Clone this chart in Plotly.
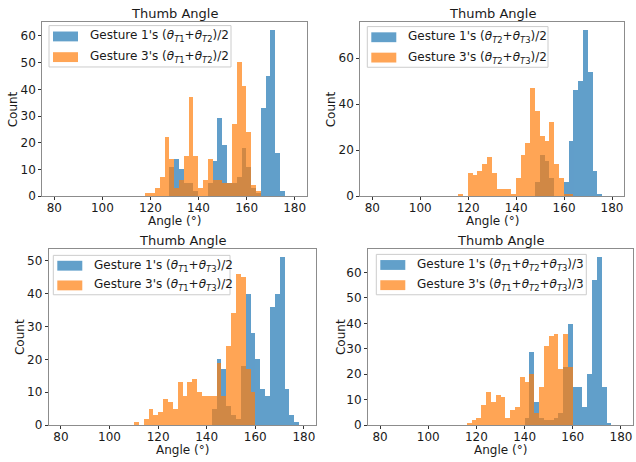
import plotly.graph_objects as go

# ---------------- data ----------------
BIN_WIDTH = 2
X_TICKS = [80, 100, 120, 140, 160, 180]
PANEL_TITLE = "Thumb Angle"
X_LABEL = "Angle (°)"
Y_LABEL = "Count"

def th(k):
    return "<i>θ</i><sub><i>T</i>%s</sub>" % k

# Panel 1: (θT1+θT2)/2
p1_label_g1 = "Gesture 1's (" + th(1) + "+" + th(2) + ")/2"
p1_label_g3 = "Gesture 3's (" + th(1) + "+" + th(2) + ")/2"
p1_g1_start = 128
p1_g1_counts = [11, 14, 10, 5, 5, 2, 0, 0, 5, 13, 29, 19, 5, 5, 7, 18, 11, 3, 1, 33, 45, 62, 16, 2]
p1_g3_start = 118
p1_g3_counts = [1, 1, 3, 7, 22, 14, 3, 6, 15, 37, 15, 3, 6, 14, 6, 6, 5, 5, 27, 50, 41, 24, 4, 2]
p1_yticks = [0, 10, 20, 30, 40, 50, 60]

# Panel 2: (θT2+θT3)/2
p2_label_g1 = "Gesture 1's (" + th(2) + "+" + th(3) + ")/2"
p2_label_g3 = "Gesture 3's (" + th(2) + "+" + th(3) + ")/2"
p2_g1_start = 148
p2_g1_counts = [6, 18, 15, 8, 0, 0, 6, 24, 46, 50, 72, 54, 11, 1]
p2_g3_start = 116
p2_g3_counts = [1, 0, 10, 9, 11, 14, 17, 10, 3, 3, 3, 1, 8, 18, 23, 47, 37, 26, 24, 32, 14, 8, 1, 1]
p2_yticks = [0, 20, 40, 60]

# Panel 3: (θT1+θT3)/2
p3_label_g1 = "Gesture 1's (" + th(1) + "+" + th(3) + ")/2"
p3_label_g3 = "Gesture 3's (" + th(1) + "+" + th(3) + ")/2"
p3_g1_start = 142
p3_g1_counts = [5, 20, 17, 6, 3, 2, 18, 40, 28, 20, 11, 9, 36, 40, 51, 11, 3, 1]
p3_g3_start = 110
p3_g3_counts = [1, 0, 2, 5, 3, 4, 8, 7, 5, 13, 9, 13, 14, 10, 9, 9, 9, 19, 9, 24, 34, 46, 45, 17, 10]
p3_yticks = [0, 10, 20, 30, 40, 50]

# Panel 4: (θT1+θT2+θT3)/3
p4_label_g1 = "Gesture 1's (" + th(1) + "+" + th(2) + "+" + th(3) + ")/3"
p4_label_g3 = "Gesture 3's (" + th(1) + "+" + th(2) + "+" + th(3) + ")/3"
p4_g1_start = 140
p4_g1_counts = [3, 29, 9, 3, 2, 2, 3, 5, 23, 40, 15, 15, 7, 20, 57, 66, 15, 1]
p4_g3_start = 116
p4_g3_counts = [1, 2, 3, 8, 13, 9, 12, 11, 3, 6, 7, 19, 17, 20, 5, 15, 31, 35, 36, 22, 36, 23]
p4_yticks = [0, 10, 20, 30, 40, 50, 60]

# ---------------- styling ----------------
BLUE = "#1f77b4"
ORANGE = "#ff7f0e"
ALPHA = 0.7
BLUE_A = "rgba(31,119,180,0.7)"
ORANGE_A = "rgba(255,127,14,0.7)"
FONT = "DejaVu Sans"
TXT = "#1a1a1a"
SPINE = "#8c8c8c"

W, H = 636, 462
# plot-area boxes in pixels: (left, right, top, bottom)
boxes = [
    (42.3, 306.7, 22.7, 199.3),
    (360.3, 624.0, 22.7, 199.3),
    (48.8, 316.0, 252.7, 431.7),
    (368.0, 633.0, 252.7, 431.7),
]
# legend boxes in pixels: (left, right, top, bottom)
legend_boxes = [
    (49.0, 231.0, 26.0, 68.0),
    (367.3, 548.0, 27.0, 68.3),
    (53.3, 230.0, 259.3, 299.3),
    (376.3, 586.3, 258.3, 299.3),
]
count_label_x = [13, 331, 20, 341]
title_y = [13.3, 13.3, 244.3, 244.3]
xlabel_y = [224.5, 224.5, 456.5, 456.5]

panels = [
    (p1_label_g1, p1_g1_start, p1_g1_counts, p1_label_g3, p1_g3_start, p1_g3_counts, p1_yticks),
    (p2_label_g1, p2_g1_start, p2_g1_counts, p2_label_g3, p2_g3_start, p2_g3_counts, p2_yticks),
    (p3_label_g1, p3_g1_start, p3_g1_counts, p3_label_g3, p3_g3_start, p3_g3_counts, p3_yticks),
    (p4_label_g1, p4_g1_start, p4_g1_counts, p4_label_g3, p4_g3_start, p4_g3_counts, p4_yticks),
]

def px(xp):
    return xp / W

def py(yp):
    return 1 - yp / H

fig = go.Figure()
layout = dict(
    width=W, height=H,
    margin=dict(l=0, r=0, t=0, b=0),
    paper_bgcolor="white", plot_bgcolor="white",
    barmode="overlay", bargap=0, showlegend=False,
    font=dict(family=FONT, size=12, color=TXT),
    annotations=[], shapes=[],
)

def centers(start, counts):
    return [start + BIN_WIDTH * (i + 0.5) for i in range(len(counts))]

for i, (l1, s1, c1, l3, s3, c3, yt) in enumerate(panels):
    n = i + 1
    xa = "x" if n == 1 else "x%d" % n
    ya = "y" if n == 1 else "y%d" % n
    fig.add_trace(go.Bar(x=centers(s1, c1), y=c1, width=BIN_WIDTH, name=l1,
                         marker=dict(color=BLUE, line=dict(width=0)), opacity=ALPHA,
                         xaxis=xa, yaxis=ya, hoverinfo="skip"))
    fig.add_trace(go.Bar(x=centers(s3, c3), y=c3, width=BIN_WIDTH, name=l3,
                         marker=dict(color=ORANGE, line=dict(width=0)), opacity=ALPHA,
                         xaxis=xa, yaxis=ya, hoverinfo="skip"))

    left, right, top, bottom = boxes[i]
    ymax = max(max(c1), max(c3)) * 1.05
    axis_common = dict(showline=True, mirror=True, linecolor=SPINE, linewidth=1,
                       ticks="outside", ticklen=3, tickcolor="#333", tickwidth=1,
                       showgrid=False, zeroline=False,
                       tickfont=dict(size=12, color=TXT, family=FONT))
    layout["xaxis" if n == 1 else "xaxis%d" % n] = dict(
        axis_common, domain=[left / W, right / W], anchor=ya,
        range=[75, 185], tickvals=X_TICKS, ticklabeloverflow="allow",
        ticklabelstandoff=-3)
    layout["yaxis" if n == 1 else "yaxis%d" % n] = dict(
        axis_common, domain=[1 - bottom / H, 1 - top / H], anchor=xa,
        range=[0, ymax], tickvals=yt)

    # panel title
    layout["annotations"].append(dict(
        text=PANEL_TITLE, xref="paper", yref="paper",
        x=px((left + right) / 2), y=py(title_y[i]), xanchor="center", yanchor="middle",
        showarrow=False, font=dict(size=13, family=FONT, color=TXT)))
    # axis labels
    layout["annotations"].append(dict(
        text=X_LABEL, xref="paper", yref="paper",
        x=px((left + right) / 2), y=py(xlabel_y[i]), xanchor="center", yanchor="middle",
        showarrow=False, font=dict(size=12, family=FONT, color=TXT)))
    layout["annotations"].append(dict(
        text=Y_LABEL, xref="paper", yref="paper", textangle=-90,
        x=px(count_label_x[i]), y=py((top + bottom) / 2), xanchor="center", yanchor="middle",
        showarrow=False, font=dict(size=12, family=FONT, color=TXT)))

    # legend (matplotlib style: framed box, wide colour patches)
    bl, br, bt, bb = legend_boxes[i]
    layout["shapes"].append(dict(
        type="rect", xref="paper", yref="paper",
        x0=px(bl), x1=px(br), y0=py(bb), y1=py(bt),
        line=dict(color="#cccccc", width=1), fillcolor="rgba(255,255,255,0.8)", layer="above"))
    row_h = (bb - bt) / 2
    for k, (lab, col) in enumerate([(l1, BLUE_A), (l3, ORANGE_A)]):
        cy = bt + row_h * (k + 0.5) + 0.5
        layout["shapes"].append(dict(
            type="rect", xref="paper", yref="paper",
            x0=px(bl + 4), x1=px(bl + 29), y0=py(cy + 5), y1=py(cy - 5),
            line=dict(width=0), fillcolor=col, layer="above"))
        layout["annotations"].append(dict(
            text=lab, xref="paper", yref="paper",
            x=px(bl + 39), y=py(cy), xanchor="left", yanchor="middle",
            showarrow=False, font=dict(size=12, family=FONT, color=TXT)))

fig.update_layout(**layout)
fig.write_html("out.html",
               config={"displayModeBar": False},
               post_script="document.body.style.margin='0';document.body.style.overflow='hidden';")
